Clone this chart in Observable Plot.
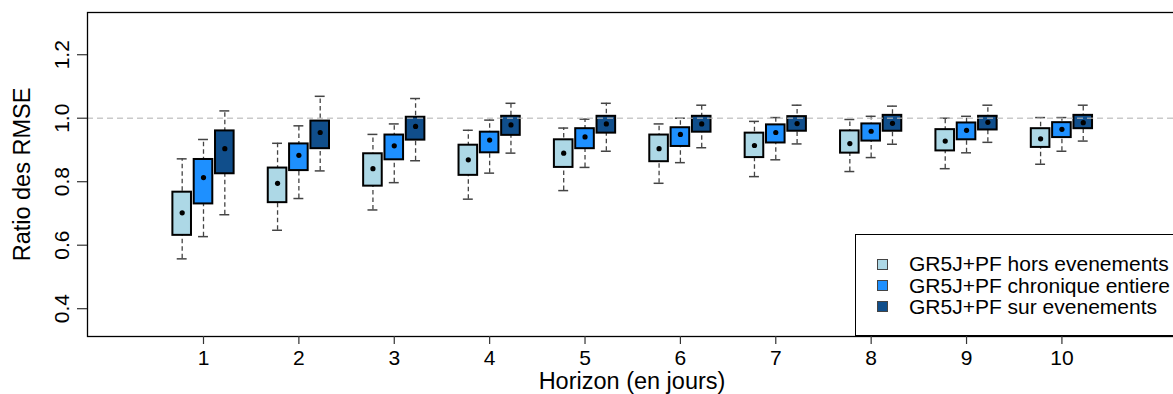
<!DOCTYPE html>
<html>
<head>
<meta charset="utf-8">
<script src="https://cdn.jsdelivr.net/npm/d3@7"></script>
<script src="https://cdn.jsdelivr.net/npm/@observablehq/plot@0.6"></script>
<style>
  html, body { margin: 0; padding: 0; background: #fff; overflow: hidden; }
  #wrap { position: relative; width: 1173px; height: 394px; overflow: hidden; font-family: "Liberation Sans", Arial, sans-serif; }
  #wrap svg { max-width: none !important; display: block; }
  #legend { position: absolute; left: 855px; top: 234px; width: 340px; height: 102px; border: 1px solid #000; background: #fff; box-sizing: border-box; }
  .row { position: absolute; left: 0; height: 22px; display: flex; align-items: center; font-size: 21px; color: #000; white-space: nowrap; }
  .sw { position: absolute; left: 21px; width: 11px; height: 11px; border: 1px solid #444; box-sizing: border-box; }
  .lab { position: absolute; left: 53px; }
</style>
</head>
<body>
<div id="wrap"></div>
<script>
const horizons = [1, 2, 3, 4, 5, 6, 7, 8, 9, 10];
const seriesNames = ["GR5J+PF hors evenements", "GR5J+PF chronique entiere", "GR5J+PF sur evenements"];
const seriesColors = ["#ADD8E6", "#1E90FF", "#104E8B"];
const seriesOffsets = [-0.2235, 0, 0.2235];
const yTicks = [0.4, 0.6, 0.8, 1.0, 1.2];

// light blue : hors evenements
const horsLo  = [0.557, 0.647, 0.711, 0.745, 0.772, 0.795, 0.816, 0.832, 0.841, 0.855];
const horsQ1  = [0.631, 0.734, 0.786, 0.820, 0.845, 0.863, 0.876, 0.890, 0.897, 0.908];
const horsMid = [0.702, 0.795, 0.841, 0.869, 0.890, 0.904, 0.914, 0.920, 0.928, 0.935];
const horsQ3  = [0.767, 0.843, 0.888, 0.915, 0.932, 0.947, 0.953, 0.960, 0.964, 0.967];
const horsHi  = [0.872, 0.921, 0.949, 0.962, 0.969, 0.982, 0.990, 0.996, 1.000, 1.002];
// dodger blue : chronique entiere
const chronLo  = [0.627, 0.747, 0.797, 0.827, 0.845, 0.860, 0.869, 0.876, 0.891, 0.896];
const chronQ1  = [0.730, 0.835, 0.869, 0.891, 0.904, 0.911, 0.922, 0.928, 0.932, 0.939];
const chronMid = [0.813, 0.883, 0.913, 0.931, 0.941, 0.949, 0.955, 0.959, 0.962, 0.965];
const chronQ3  = [0.870, 0.919, 0.947, 0.956, 0.967, 0.970, 0.979, 0.982, 0.985, 0.986];
const chronHi  = [0.933, 0.976, 0.982, 0.994, 0.997, 1.000, 1.002, 1.006, 1.006, 1.002];
// dark blue : sur evenements
const surLo  = [0.696, 0.834, 0.866, 0.890, 0.896, 0.907, 0.919, 0.918, 0.924, 0.928];
const surQ1  = [0.825, 0.904, 0.931, 0.946, 0.953, 0.956, 0.959, 0.959, 0.963, 0.967];
const surMid = [0.904, 0.955, 0.974, 0.979, 0.982, 0.982, 0.983, 0.984, 0.987, 0.986];
const surQ3  = [0.960, 0.991, 1.003, 1.006, 1.006, 1.006, 1.005, 1.009, 1.006, 1.009];
const surHi  = [1.023, 1.069, 1.062, 1.047, 1.047, 1.041, 1.041, 1.038, 1.041, 1.041];

const seriesData = [
  [horsLo, horsQ1, horsMid, horsQ3, horsHi],
  [chronLo, chronQ1, chronMid, chronQ3, chronHi],
  [surLo, surQ1, surMid, surQ3, surHi]
];

const boxHalf = 0.0975;
const capHalf = 0.052;

const rows = [];
seriesData.forEach((arrs, s) => {
  horizons.forEach((h, i) => {
    rows.push({
      x: h + seriesOffsets[s],
      lo: arrs[0][i], q1: arrs[1][i], mid: arrs[2][i], q3: arrs[3][i], hi: arrs[4][i],
      color: seriesColors[s]
    });
  });
});

const font = '"Liberation Sans", Arial, sans-serif';

const chart = Plot.plot({
  width: 1190,
  height: 394,
  marginLeft: 87,
  marginRight: 14,
  marginTop: 12,
  marginBottom: 58,
  style: { fontFamily: font, background: "#fff", overflow: "visible", maxWidth: "none" },
  x: { type: "linear", domain: [-0.2162, 11.2013], axis: null },
  y: { type: "linear", domain: [0.3124, 1.333], axis: null },
  marks: [
    // whiskers
    Plot.ruleX(rows, { x: "x", y1: "lo", y2: "hi", stroke: "#444", strokeWidth: 1.3, strokeDasharray: "4.5,3" }),
    // caps
    Plot.ruleY(rows, { y: "hi", x1: d => d.x - capHalf, x2: d => d.x + capHalf, stroke: "#444", strokeWidth: 1.5 }),
    Plot.ruleY(rows, { y: "lo", x1: d => d.x - capHalf, x2: d => d.x + capHalf, stroke: "#444", strokeWidth: 1.5 }),
    // boxes
    Plot.rect(rows, { x1: d => d.x - boxHalf, x2: d => d.x + boxHalf, y1: "q1", y2: "q3", fill: "color", stroke: "#000", strokeWidth: 2 }),
    // central dots
    Plot.dot(rows, { x: "x", y: "mid", r: 2.6, fill: "#000", stroke: "none" }),
    // reference line
    Plot.ruleY([1], { stroke: "#b8b8b8", strokeOpacity: 0.75, strokeWidth: 1.6, strokeDasharray: "6,4" }),
    // frame
    Plot.frame({ stroke: "#000", strokeWidth: 1.3 }),
    // y axis ticks + labels
    Plot.axisY({ ticks: yTicks, tickSize: 10, tickFormat: () => "", stroke: "#333", strokeWidth: 1.2, label: null }),
    Plot.text(yTicks, { y: d => d, text: d => d.toFixed(1), frameAnchor: "left", dx: -25, rotate: -90, textAnchor: "middle", lineAnchor: "middle", fontSize: 21, fill: "#000" }),
    // x axis ticks + labels
    Plot.axisX({ ticks: horizons, tickSize: 8, tickFormat: () => "", stroke: "#333", strokeWidth: 1.2, label: null }),
    Plot.text(horizons, { x: d => d, text: d => String(d), frameAnchor: "bottom", dy: 22, textAnchor: "middle", lineAnchor: "middle", fontSize: 21, fill: "#000" }),
    // axis titles
    Plot.text(["Horizon (en jours)"], { frameAnchor: "bottom", dy: 45, textAnchor: "middle", lineAnchor: "middle", fontSize: 23.5, fill: "#000" }),
    Plot.text(["Ratio des RMSE"], { frameAnchor: "left", dx: -65, rotate: -90, textAnchor: "middle", lineAnchor: "middle", fontSize: 23.5, fill: "#000" })
  ]
});

const wrap = document.getElementById("wrap");
wrap.appendChild(chart);

const legend = document.createElement("div");
legend.id = "legend";
const rowTops = [18, 39.5, 60.5];
seriesNames.forEach((name, i) => {
  const r = document.createElement("div");
  r.className = "row";
  r.style.top = rowTops[i] + "px";
  const sw = document.createElement("div");
  sw.className = "sw";
  sw.style.background = seriesColors[i];
  const lab = document.createElement("span");
  lab.className = "lab";
  lab.textContent = name;
  r.appendChild(sw);
  r.appendChild(lab);
  legend.appendChild(r);
});
wrap.appendChild(legend);
</script>
</body>
</html>
